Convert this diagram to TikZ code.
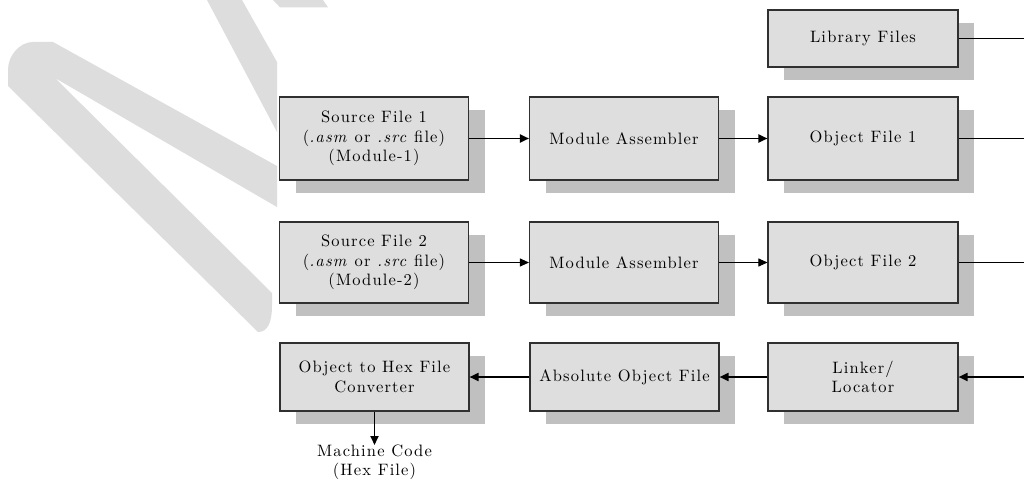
\documentclass[tikz,border=0pt]{standalone}
\usepackage{fontspec}
\setmainfont{lmroman10}[Extension=.otf, UprightFont=*-regular, ItalicFont=*-italic, BoldFont=*-bold, BoldItalicFont=*-bolditalic, LetterSpace=7]
\usetikzlibrary{arrows.meta,shadows}
\definecolor{boxfill}{HTML}{DEDEDE}
\definecolor{shadowgray}{HTML}{C0C0C0}
\definecolor{wmark}{HTML}{DDDDDD}
\definecolor{edgecol}{HTML}{303030}
\newcommand\myblkfont{\fontsize{16.5}{19.5}\selectfont}
\begin{document}
\begin{tikzpicture}[x=1pt,y=-1pt,
  blk/.style={draw=edgecol, line width=1.1pt, fill=boxfill, align=center, inner sep=0pt,
    font=\myblkfont,
    drop shadow={shadow xshift=16pt, shadow yshift=-13pt, fill=shadowgray, opacity=1}},
  thickarr/.style={line width=1.8pt, -{Triangle[length=9pt,width=8pt]}},
  thinarr/.style={line width=0.9pt, -{Triangle[length=9pt,width=8pt]}},
  thickline/.style={line width=1.8pt},
  thinline/.style={line width=0.9pt},
  lbl/.style={align=center, inner sep=0pt, font=\fontsize{16.5}{19}\selectfont}
]
\useasboundingbox (0,0) rectangle (1024,484);
\fill[white] (0,0) rectangle (1024,484);

% watermark strokes
\fill[wmark] (33,42) -- (53,42) -- (277,166) -- (277,207) -- (55,78) -- (272,293) -- (272,305)
  .. controls (272,322) and (268,332) .. (258,332) -- (8,86) -- (8,70)
  .. controls (8,55) and (20,42) .. (33,42) -- cycle;
\fill[wmark] (207,0) -- (242,0) -- (277,62) -- (277,132) -- cycle;
\fill[wmark] (273,0) -- (323,0) -- (328,7.3) -- (280,7.3) -- cycle;

% boxes
\node[blk, minimum width=190, minimum height=57] (lib) at (863,38.5) {Library Files};

\node[blk, minimum width=189, minimum height=83] (src1) at (374,138.5) {Source File 1\\(\textit{.asm} or \textit{.src} file)\\(Module-1)};
\node[blk, minimum width=189, minimum height=83] (ma1) at (624,138.5) {Module Assembler};
\node[blk, minimum width=190, minimum height=83] (of1) at (863,138.5) {Object File 1};

\node[blk, minimum width=189, minimum height=81] (src2) at (374,262.5) {Source File 2\\(\textit{.asm} or \textit{.src} file)\\(Module-2)};
\node[blk, minimum width=189, minimum height=81] (ma2) at (624,262.5) {Module Assembler};
\node[blk, minimum width=190, minimum height=81] (of2) at (863,262.5) {Object File 2};

\node[blk, minimum width=189, minimum height=68] (hex) at (374.5,377) {Object to Hex File\\Converter};
\node[blk, minimum width=189, minimum height=68] (abs) at (624.5,377) {Absolute Object File};
\node[blk, minimum width=190, minimum height=68] (link) at (863,377) {Linker/\\Locator};

\node[lbl, anchor=north] (mc) at (374.5,445) {Machine Code\\(Hex File)};

% free ends at right border
\coordinate (r0) at (1024,38.5);
\coordinate (r1) at (1024,138.5);
\coordinate (r2) at (1024,262.5);
\coordinate (r3) at (1024,377);

% connectors
\draw[thickarr] (src1) -- (ma1);
\draw[thickarr] (ma1) -- (of1);
\draw[thinarr] (src2) -- (ma2);
\draw[thinarr] (ma2) -- (of2);
\draw[thickline] (lib.east) -- (r0);
\draw[thickline] (of1.east) -- (r1);
\draw[thinline] (of2.east) -- (r2);
\draw[thickarr] (r3) -- (link.east);
\draw[thickarr] (link) -- (abs);
\draw[thickarr] (abs) -- (hex);
\draw[thickarr] (hex.south) -- (mc.north);
\end{tikzpicture}
\end{document}
